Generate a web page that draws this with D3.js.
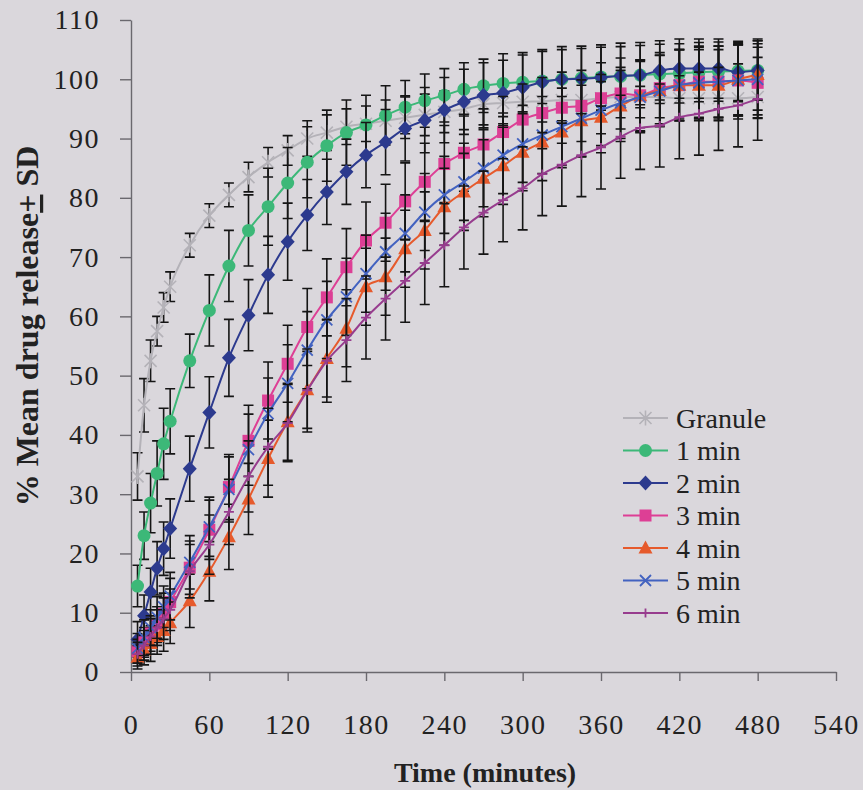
<!DOCTYPE html>
<html>
<head>
<meta charset="utf-8">
<script src="https://cdn.jsdelivr.net/npm/d3@7"></script>
<style>
  body { margin: 0; background: #dad7dc; }
  svg { display: block; }
  svg text { font-family: 'Liberation Serif', 'Times New Roman', Times, serif; fill: #222; }
</style>
</head>
<body>
<svg id="chart" width="863" height="790"></svg>
<script>
// sampling times (minutes)
const times = [5, 10, 15, 20, 25, 30, 45, 60, 75, 90, 105, 120, 135, 150, 165, 180, 195, 210, 225, 240,
  255, 270, 285, 300, 315, 330, 345, 360, 375, 390, 405, 420, 435, 450, 465, 480]

const xTicks = [0, 60, 120, 180, 240, 300, 360, 420, 480, 540]
const yTicks = [0, 10, 20, 30, 40, 50, 60, 70, 80, 90, 100, 110]

const seriesNames = ['Granule', '1 min', '2 min', '3 min', '4 min', '5 min', '6 min']

// % mean drug release
const granule = [33, 45, 52.5, 57.5, 61.5, 65, 72, 77, 80.5, 83.5, 86, 88, 90, 91, 92, 92.5, 93, 93.5, 94, 94.5,
  95, 95.8, 96, 96.2, 96.3, 96.5, 96.5, 96.8, 97, 97, 97, 96.8, 96.8, 96.8, 96.8, 97]
const min1 = [14.5, 23, 28.5, 33.5, 38.5, 42.3, 52.5, 61, 68.5, 74.5, 78.5, 82.5, 86, 88.8, 91, 92.3, 93.9, 95.3, 96.4, 97.3,
  98.3, 98.9, 99.3, 99.5, 99.7, 100, 100.2, 100.4, 100.5, 100.7, 100.9, 101, 101.2, 101.3, 101.4, 101.5]
const min2 = [5.5, 9.5, 13.5, 17.5, 20.8, 24.2, 34.3, 43.8, 53, 60.2, 67, 72.6, 77.1, 81, 84.4, 87.2, 89.4, 91.7, 93.1, 94.8,
  96.2, 97.3, 97.7, 98.6, 99.5, 100, 100.1, 100.3, 100.6, 100.7, 101.5, 101.8, 101.8, 101.8, 101.2, 101.5]
const min3 = [3.5, 5, 6.5, 8, 9.8, 11.8, 17.6, 24, 31.2, 39, 45.8, 52, 58.2, 63.2, 68.3, 72.8, 75.8, 79.4, 82.7, 85.7,
  87.6, 89, 91.1, 93.2, 94.3, 95.2, 95.5, 96.8, 97.6, 97.3, 98.5, 99, 99.6, 99.6, 99.8, 99.4]
const min4 = [2.5, 3.7, 4.8, 6, 7, 8.3, 12, 17, 22.8, 29.2, 36, 42.2, 47.6, 52.9, 58, 65, 66.7, 71.4, 74.5, 78.5,
  81, 83.3, 85.4, 87.7, 89.4, 91.1, 93, 93.6, 95.5, 97.2, 98.1, 99, 99, 99, 100, 100.8]
const min5 = [4, 5.8, 7.5, 9.2, 11, 12.8, 18.5, 24.5, 30.8, 37.5, 43.6, 48.7, 54.3, 59.4, 63.3, 67.2, 70.9, 74, 77.6, 80.5,
  82.7, 85, 87.2, 89.1, 90.6, 92, 93.4, 94.8, 96, 97, 98, 99, 99.4, 99.6, 99.8, 100]
const min6 = [3, 4.5, 6, 7.5, 9, 10.5, 17, 21.5, 27, 33, 38, 42, 47.5, 52.5, 56, 59.8, 63, 66, 69, 72,
  75, 77.5, 79.6, 81.6, 84, 85.6, 87.2, 88.5, 90.3, 91.8, 92.2, 93.6, 94.2, 95, 95.6, 96.7]

// standard deviations
const sdGranule = [4, 4.5, 3.5, 2.5, 2.5, 2.5, 2, 2, 2, 2.5, 2.5, 2.5, 3, 3, 3, 3, 3.5, 3.5, 3.5, 3.5,
  3.5, 3.5, 3.5, 3.5, 3.5, 3.5, 3.5, 3.5, 3.5, 3.5, 3.5, 3.5, 3.5, 3.5, 3.5, 3.5]
const sdMin1 = [3.5, 4, 5, 5.5, 6, 5.5, 4.5, 6, 6, 6, 6.5, 6, 6, 6, 5.5, 5, 5, 4.5, 4.5, 4.5,
  4.5, 4.5, 5, 5, 5, 5, 5, 5, 5, 5, 5, 5, 5, 5, 5, 5]
const sdMin2 = [3, 3.5, 4, 4.5, 4.5, 5, 5.5, 6, 6.5, 6, 6.5, 6.5, 6, 5.5, 5.5, 5.5, 5.5, 5.5, 5.5, 5.5,
  5.5, 5.5, 5.5, 5.5, 5.5, 5.5, 5.5, 5.5, 5.5, 5.5, 5, 5, 5, 5, 5, 5]
const sdMin3 = [2, 2.5, 3, 3, 3.5, 4, 4.5, 5, 5.5, 6, 6.5, 6.5, 6.5, 6.5, 6.5, 6.5, 6.5, 6.5, 6.5, 6.5,
  6.5, 6, 6, 6, 6, 6, 6, 6, 6, 6, 6, 6, 6, 6, 6, 6]
const sdMin4 = [2, 2.5, 3, 3, 3.5, 3.5, 4.5, 5, 5.5, 6, 6.5, 6.5, 6.5, 6.5, 6.5, 6.5, 6.5, 6.5, 6.5, 6.5,
  6.5, 6.5, 6.5, 6.5, 6.5, 6, 6, 6, 6, 6, 6, 6, 6, 6, 6, 6]
const sdMin5 = [2.5, 3, 3, 3.5, 3.5, 4, 4.5, 5, 5.5, 6, 6, 6.5, 6.5, 6.5, 6.5, 6.5, 6.5, 6.5, 6.5, 6.5,
  6.5, 6.5, 6.5, 6.5, 6.5, 6.5, 6.5, 6, 6, 6, 6, 6, 6, 6, 6, 6]
const sdMin6 = [2, 2.5, 3, 3, 3.5, 3.5, 4.5, 5, 5.5, 6, 6.5, 6.5, 7, 7, 7, 7, 7, 7, 7, 7,
  7, 7, 7, 7, 7, 7, 7, 7, 7, 7, 7, 7, 7, 7, 7, 7]

const colors = ['#b4b2b8', '#3cb878', '#2c3a8e', '#dd3f95', '#e65a2c', '#4262c0', '#973c8e']
const symbols = ['asterisk', 'circle', 'diamond', 'square', 'triangle', 'cross', 'plus']

const series = seriesNames.map((name, i) => ({
  name,
  color: colors[i],
  symbol: symbols[i],
  values: [granule, min1, min2, min3, min4, min5, min6][i],
  sd: [sdGranule, sdMin1, sdMin2, sdMin3, sdMin4, sdMin5, sdMin6][i]
}))

const margin = { top: 20, right: 27, bottom: 118, left: 131 }
const width = 863, height = 790

const svg = d3.select('#chart')

const x = d3.scaleLinear().domain([0, 540]).range([margin.left, width - margin.right])
const y = d3.scaleLinear().domain([0, 110]).range([height - margin.bottom, margin.top])

// axes
const yAxis = svg.append('g')
  .attr('transform', `translate(${margin.left},0)`)
  .call(d3.axisLeft(y).tickValues(yTicks).tickSize(11).tickSizeOuter(0).tickPadding(20))
const xAxis = svg.append('g')
  .attr('transform', `translate(0,${height - margin.bottom})`)
  .call(d3.axisBottom(x).tickValues(xTicks).tickSize(9).tickSizeOuter(0).tickPadding(33))

;[xAxis, yAxis].forEach(ax => {
  ax.attr('font-family', null)
  ax.select('.domain').attr('stroke', '#6a686e').attr('stroke-width', 1.4)
  ax.selectAll('.tick line').attr('stroke', '#6a686e').attr('stroke-width', 1.4)
  ax.selectAll('.tick text').attr('font-size', 28).attr('letter-spacing', 1.5).attr('fill', '#222')
})

// marker drawing
const drawMarker = (g, kind, color) => {
  if (kind === 'circle') {
    g.append('circle').attr('r', 6.5).attr('fill', color)
  } else if (kind === 'diamond') {
    g.append('path').attr('d', 'M0,-7.5L7,0L0,7.5L-7,0Z').attr('fill', color)
  } else if (kind === 'square') {
    g.append('rect').attr('x', -6).attr('y', -6).attr('width', 12).attr('height', 12).attr('fill', color)
  } else if (kind === 'triangle') {
    g.append('path').attr('d', 'M0,-7.5L7,5.5L-7,5.5Z').attr('fill', color)
  } else if (kind === 'cross') {
    g.append('path').attr('d', 'M-5.5,-5.5L5.5,5.5M-5.5,5.5L5.5,-5.5')
      .attr('stroke', color).attr('stroke-width', 1.8).attr('fill', 'none')
  } else if (kind === 'plus') {
    g.append('path').attr('d', 'M0,-4.5L0,4.5M-5,0L5,0')
      .attr('stroke', color).attr('stroke-width', 1.8).attr('fill', 'none')
  } else if (kind === 'asterisk') {
    g.append('path').attr('d', 'M-6,-6L6,6M-6,6L6,-6M0,-7.5L0,7.5')
      .attr('stroke', color).attr('stroke-width', 1.6).attr('fill', 'none')
  }
}

const line = d3.line()
  .x(d => x(d.t))
  .y(d => y(d.v))
  .curve(d3.curveMonotoneX)

series.forEach(s => {
  const pts = times.map((t, i) => ({ t, v: s.values[i], sd: s.sd[i] }))
  const g = svg.append('g')

  // error bars
  const eb = g.append('g').attr('stroke', '#151515').attr('stroke-width', 1.6).attr('fill', 'none')
  pts.forEach(p => {
    const cx = x(p.t), y0 = y(p.v - p.sd), y1 = y(p.v + p.sd)
    eb.append('path').attr('d', `M${cx},${y0}L${cx},${y1}M${cx - 5},${y0}L${cx + 5},${y0}M${cx - 5},${y1}L${cx + 5},${y1}`)
  })

  g.append('path')
    .datum(pts)
    .attr('fill', 'none')
    .attr('stroke', s.color)
    .attr('stroke-width', 2)
    .attr('d', line)

  pts.forEach(p => {
    const m = g.append('g').attr('transform', `translate(${x(p.t)},${y(p.v)})`)
    drawMarker(m, s.symbol, s.color)
  })
})

// legend
const legend = svg.append('g')
series.forEach((s, i) => {
  const ly = 418 + i * 32.5
  legend.append('line')
    .attr('x1', 623).attr('x2', 668).attr('y1', ly).attr('y2', ly)
    .attr('stroke', s.color).attr('stroke-width', 2)
  const m = legend.append('g').attr('transform', `translate(645.5,${ly})`)
  drawMarker(m, s.symbol, s.color)
  legend.append('text')
    .attr('x', 676).attr('y', ly).attr('dy', '0.35em')
    .attr('font-size', 28)
    .text(s.name)
})

// titles
svg.append('text')
  .attr('x', 485).attr('y', 782)
  .attr('text-anchor', 'middle')
  .attr('font-weight', 'bold')
  .attr('font-size', 28)
  .text('Time (minutes)')

const yTitle = svg.append('text')
  .attr('transform', 'translate(38,326) rotate(-90)')
  .attr('text-anchor', 'middle')
  .attr('font-weight', 'bold')
  .attr('font-size', 32)
yTitle.append('tspan').text('% Mean drug release')
yTitle.append('tspan').attr('text-decoration', 'underline').text('+')
yTitle.append('tspan').text(' SD')
</script>
</body>
</html>
